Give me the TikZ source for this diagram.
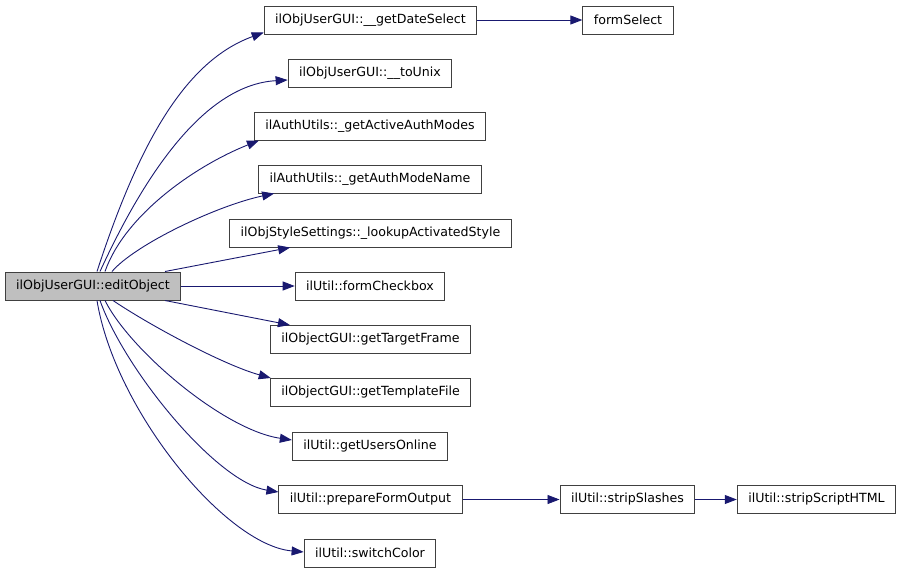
\documentclass[tikz,border=0pt]{standalone}
\usepackage{fontspec}
\setmainfont{DejaVu Sans}
\usetikzlibrary{arrows.meta,positioning}
\definecolor{edgeblue}{RGB}{25,25,112}
\begin{document}
\begin{tikzpicture}[x=1pt,y=-1pt,
  fn/.style={draw=black!75, line width=1pt, fill=white, minimum height=28pt,
    inner xsep=11pt, inner ysep=0pt, font=\fontsize{12.6}{15}\selectfont},
  caller/.style={fn, fill=black!25},
  call/.style={edgeblue, line width=0.9pt, -{Triangle[length=12pt,width=9pt]}}]
  \useasboundingbox (0,0) rectangle (907,573);

  % Function boxes
  \node[caller] (edit) at (93,286) {ilObjUserGUI::editObject};
  \node[fn] (dsel) at (370.5,20) {ilObjUserGUI::\_\_getDateSelect};
  \node[fn] (tounix) at (370,73) {ilObjUserGUI::\_\_toUnix};
  \node[fn] (authmodes) at (370,126) {ilAuthUtils::\_getActiveAuthModes};
  \node[fn] (authname) at (370,179) {ilAuthUtils::\_getAuthModeName};
  \node[fn] (lookup) at (370.5,233) {ilObjStyleSettings::\_lookupActivatedStyle};
  \node[fn] (checkbox) at (370,286) {ilUtil::formCheckbox};
  \node[fn] (target) at (370.5,339.5) {ilObjectGUI::getTargetFrame};
  \node[fn] (template) at (370.5,392.5) {ilObjectGUI::getTemplateFile};
  \node[fn] (users) at (370,446) {ilUtil::getUsersOnline};
  \node[fn] (prepare) at (370.5,499.5) {ilUtil::prepareFormOutput};
  \node[fn] (switch) at (370,553) {ilUtil::switchColor};
  \node[fn] (fselect) at (628,20) {formSelect};
  \node[fn] (slashes) at (627.5,499.5) {ilUtil::stripSlashes};
  \node[fn] (striphtml) at (816.5,499.5) {ilUtil::stripScriptHTML};

  % Calls going up
  \draw[call] ([xshift=4]edit.north) .. controls +(43,-132) and +(-77,28) .. ([yshift=2]dsel.south west);
  \draw[call] ([xshift=7]edit.north) .. controls +(40,-87) and +(-87,5) .. ([yshift=-7]tounix.west);
  \draw[call] ([xshift=12]edit.north) .. controls +(20,-57) and +(-63,25) .. ([xshift=5]authmodes.south west);
  \draw[call] ([xshift=19]edit.north) .. controls +(23,-27) and +(-57,12) .. ([xshift=16]authname.south west);
  \draw[call] ([xshift=72]edit.north) -- ([xshift=61]lookup.south west);

  % Straight call
  \draw[call] (edit) -- (checkbox);

  % Calls going down
  \draw[call] ([xshift=72]edit.south) -- ([xshift=20]target.north west);
  \draw[call] ([xshift=20]edit.south) .. controls +(37,25) and +(-47,-13) .. ([xshift=1]template.north west);
  \draw[call] ([xshift=12]edit.south) .. controls +(25,50) and +(-68,-10) .. ([yshift=6]users.west);
  \draw[call] ([xshift=7]edit.south) .. controls +(25,70) and +(-62,-10) .. ([yshift=7.5]prepare.west);
  \draw[call] ([xshift=4]edit.south) .. controls +(18,110) and +(-78,-7) .. ([yshift=1]switch.west);

  % Second level calls
  \draw[call] (dsel) -- (fselect);
  \draw[call] (prepare) -- (slashes);
  \draw[call] (slashes) -- (striphtml);
\end{tikzpicture}
\end{document}
